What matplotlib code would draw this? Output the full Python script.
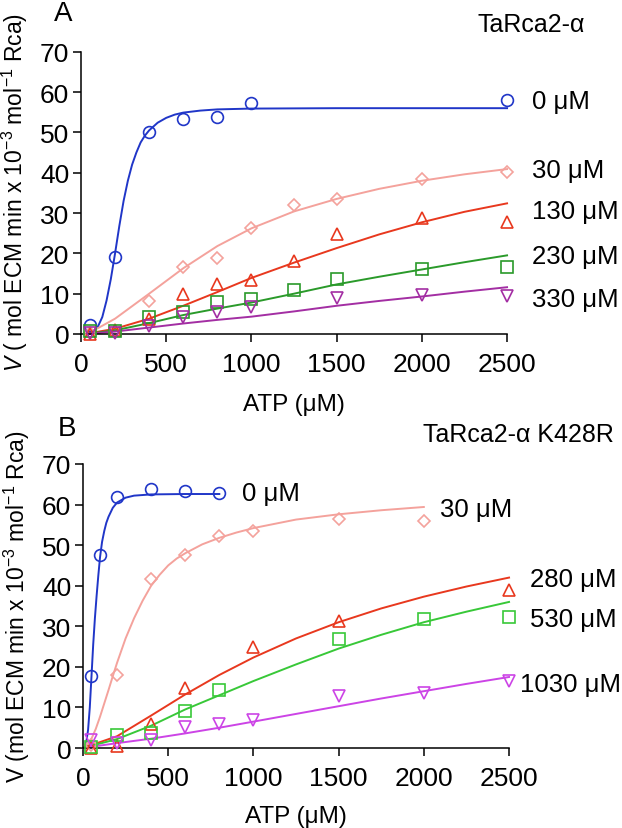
import matplotlib
matplotlib.use("Agg")
import matplotlib.pyplot as plt

plt.rcParams["font.family"] = ["Liberation Sans", "DejaVu Sans"]
plt.rcParams["mathtext.fontset"] = "custom"
plt.rcParams["mathtext.rm"] = "Liberation Sans"
plt.rcParams["mathtext.it"] = "Liberation Sans:italic"

# ---- panel A: TaRca2-alpha ----
a_x = [50, 200, 400, 600, 800, 1000, 1250, 1500, 2000, 2500]
a_blue_x = [50, 200, 400, 600, 800, 1000, 2500]
a_blue_y = [2.2, 19.0, 50.1, 53.3, 53.8, 57.2, 58.1]
a_pink_y = [0.3, 0.6, 8.1, 16.7, 18.8, 26.4, 31.9, 33.5, 38.5, 40.1]
a_red_y = [0.0, 1.0, 3.7, 9.9, 12.4, 13.3, 18.1, 24.7, 28.8, 27.8]
a_green_y = [0.8, 0.8, 4.3, 5.4, 8.0, 8.6, 10.9, 13.6, 16.1, 16.7]
a_purple_x = [50, 200, 400, 600, 800, 1000, 1500, 2000, 2500]
a_purple_y = [0.2, 0.3, 2.0, 4.1, 5.5, 6.6, 8.9, 9.7, 9.5]

# fitted curves
a_fit_blue_x = [50, 75, 100, 125, 150, 175, 200, 225, 250, 275, 300, 325, 350,
                375, 400, 450, 500, 550, 600, 700, 800, 1000, 1500, 2500]
a_fit_blue_y = [0.1, 0.6, 1.9, 4.2, 8.3, 13.6, 20.0, 26.8, 33.0, 38.0, 42.0,
                45.0, 47.5, 49.2, 50.5, 52.4, 53.6, 54.4, 54.9, 55.4, 55.7,
                55.9, 56.0, 56.0]
a_fit_x = [50, 200, 400, 600, 800, 1000, 1250, 1500, 1750, 2000, 2250, 2500]
a_fit_pink_y = [0.3, 3.8, 10.0, 16.3, 21.8, 26.2, 30.4, 33.5, 36.0, 38.0, 39.6, 40.9]
a_fit_red_y = [0.2, 1.3, 3.8, 7.0, 10.4, 13.9, 17.7, 21.3, 24.7, 27.7, 30.3, 32.4]
a_fit_green_y = [0.1, 0.9, 2.7, 4.7, 6.3, 7.8, 10.0, 12.3, 14.2, 16.0, 17.8, 19.5]
a_fit_purple_y = [0.1, 0.6, 1.6, 2.6, 3.5, 4.3, 5.6, 7.0, 8.2, 9.3, 10.5, 11.6]

a_labels = ["0 μM", "30 μM", "130 μM", "230 μM", "330 μM"]
a_label_y = [57.7, 40.6, 30.5, 19.4, 8.6]

# ---- panel B: TaRca2-alpha K428R ----
b_blue_x = [50, 100, 200, 400, 600, 800]
b_blue_y = [17.7, 47.6, 61.8, 63.8, 63.4, 62.8]
b_pink_x = [50, 200, 400, 600, 800, 1000, 1500, 2000]
b_pink_y = [0.8, 17.9, 41.6, 47.6, 52.3, 53.4, 56.4, 56.0]
b_red_x = [50, 200, 400, 600, 1000, 1500, 2500]
b_red_y = [0.0, 0.5, 5.8, 14.8, 25.0, 31.3, 39.0]
b_green_x = [50, 200, 400, 600, 800, 1500, 2000, 2500]
b_green_y = [0.3, 3.1, 3.8, 9.1, 14.4, 26.8, 31.7, 32.3]
b_mag_x = [50, 200, 400, 600, 800, 1000, 1500, 2000, 2500]
b_mag_y = [2.0, 1.2, 2.0, 5.1, 5.8, 6.8, 12.8, 13.6, 16.6]

b_fit_blue_x = [10, 20, 30, 40, 50, 60, 70, 80, 90, 100, 112, 125, 137, 150,
                175, 200, 250, 300, 400, 600, 800]
b_fit_blue_y = [0.3, 1.6, 4.5, 10.0, 17.7, 25.5, 32.0, 37.5, 42.5, 47.0, 50.8,
                53.5, 55.5, 57.0, 59.2, 60.5, 61.7, 62.2, 62.5, 62.6, 62.6]
b_fit_pink_x = [0, 25, 50, 75, 100, 125, 150, 175, 200, 250, 300, 350, 400, 450,
                500, 550, 600, 700, 800, 900, 1000, 1250, 1500, 1750, 2000]
b_fit_pink_y = [0.0, 0.6, 2.3, 4.7, 7.7, 11.0, 14.3, 17.7, 21.0, 27.0, 32.0,
                36.3, 40.0, 42.7, 45.0, 46.7, 48.0, 50.2, 51.8, 53.1, 54.2,
                56.3, 57.6, 58.6, 59.4]
b_fit_x = [0, 200, 400, 600, 800, 1000, 1250, 1500, 1750, 2000, 2250, 2500]
b_fit_red_y = [0.0, 2.9, 8.0, 13.2, 18.0, 22.3, 27.0, 31.0, 34.4, 37.3, 39.8, 42.0]
b_fit_green_y = [0.0, 2.2, 5.5, 9.5, 13.0, 16.5, 20.6, 24.5, 27.9, 31.0, 33.6, 36.0]
b_fit_mag_y = [0.0, 1.2, 2.3, 3.6, 5.0, 6.5, 8.4, 10.3, 12.2, 14.0, 15.8, 17.5]

b_labels = ["0 μM", "30 μM", "280 μM", "530 μM", "1030 μM"]
b_label_x = [933, 2095, 2623, 2623, 2565]
b_label_y = [62.9, 58.9, 41.7, 31.8, 15.8]

blue = "#2036c8"
pink = "#f4a29c"
red = "#e8381e"
green_a = "#2a9a2a"
purple_a = "#a32ea3"
green_b = "#38c838"
magenta_b = "#cc44e6"

TICK_FS = 19
LAB_FS = 18.5
TITLE_FS = 18


def style_axes(ax):
    ax.set_xlim(0, 2500)
    ax.set_ylim(0, 70)
    ax.set_xticks([0, 500, 1000, 1500, 2000, 2500])
    ax.set_yticks(range(0, 71, 10))
    for s in ["top", "right"]:
        ax.spines[s].set_visible(False)
    for s in ["left", "bottom"]:
        ax.spines[s].set_linewidth(1.1)
    ax.tick_params(direction="out", length=5.5, width=1.1, labelsize=TICK_FS)
    ax.tick_params(axis="x", pad=7.5)
    ax.tick_params(axis="y", pad=3)


def series(ax, fx, fy, px, py, color, marker, ms=8.5):
    ax.plot(fx, fy, color=color, lw=1.4, clip_on=False, zorder=2)
    ax.plot(px, py, linestyle="none", marker=marker, ms=ms, mfc="none",
            mec=color, mew=1.2, clip_on=False, zorder=3)


fig = plt.figure(figsize=(6.22, 8.29), dpi=100)

# panel A
ax1 = fig.add_axes([0.1302, 0.5959, 0.685, 0.3405])
series(ax1, a_fit_blue_x, a_fit_blue_y, a_blue_x, a_blue_y, blue, "o")
series(ax1, a_fit_x, a_fit_pink_y, a_x, a_pink_y, pink, "D", 6.5)
series(ax1, a_fit_x, a_fit_red_y, a_x, a_red_y, red, "^")
series(ax1, a_fit_x, a_fit_green_y, a_x, a_green_y, green_a, "s")
series(ax1, a_fit_x, a_fit_purple_y, a_purple_x, a_purple_y, purple_a, "v")
style_axes(ax1)
for lab, ly in zip(a_labels, a_label_y):
    ax1.text(2647, ly, lab, fontsize=LAB_FS, ha="left", va="center", clip_on=False)

fig.text(478 / 622, 1 - 25 / 829, "TaRca2-α", fontsize=TITLE_FS, ha="left", va="center")
fig.text(54 / 622, 1 - 14 / 829, "A", fontsize=20, ha="left", va="center")
fig.text(15 / 622, 1 - 192 / 829,
         r"$\mathit{V}$ ( mol ECM min x 10$^{-3}$ mol$^{-1}$ Rca)",
         fontsize=16.5, rotation=90, ha="center", va="center")
fig.text(294 / 622, 1 - 405 / 829, "ATP (μM)", fontsize=17.5, ha="center", va="center")

# panel B
ax2 = fig.add_axes([0.1334, 0.0965, 0.685, 0.3426])
series(ax2, b_fit_blue_x, b_fit_blue_y, b_blue_x, b_blue_y, blue, "o")
series(ax2, b_fit_pink_x, b_fit_pink_y, b_pink_x, b_pink_y, pink, "D", 6.5)
series(ax2, b_fit_x, b_fit_red_y, b_red_x, b_red_y, red, "^")
series(ax2, b_fit_x, b_fit_green_y, b_green_x, b_green_y, green_b, "s")
series(ax2, b_fit_x, b_fit_mag_y, b_mag_x, b_mag_y, magenta_b, "v")
style_axes(ax2)
for lab, lx, ly in zip(b_labels, b_label_x, b_label_y):
    ax2.text(lx, ly, lab, fontsize=LAB_FS, ha="left", va="center", clip_on=False)

fig.text(614 / 622, 1 - 435 / 829, "TaRca2-α K428R", fontsize=TITLE_FS, ha="right", va="center")
fig.text(58 / 622, 1 - 429 / 829, "B", fontsize=20, ha="left", va="center")
fig.text(17 / 622, 1 - 607 / 829,
         r"V (mol ECM min x 10$^{-3}$ mol$^{-1}$ Rca)",
         fontsize=16.5, rotation=90, ha="center", va="center")
fig.text(296 / 622, 1 - 817 / 829, "ATP (μM)", fontsize=17.5, ha="center", va="center")

fig.savefig("out.png", dpi=100)
